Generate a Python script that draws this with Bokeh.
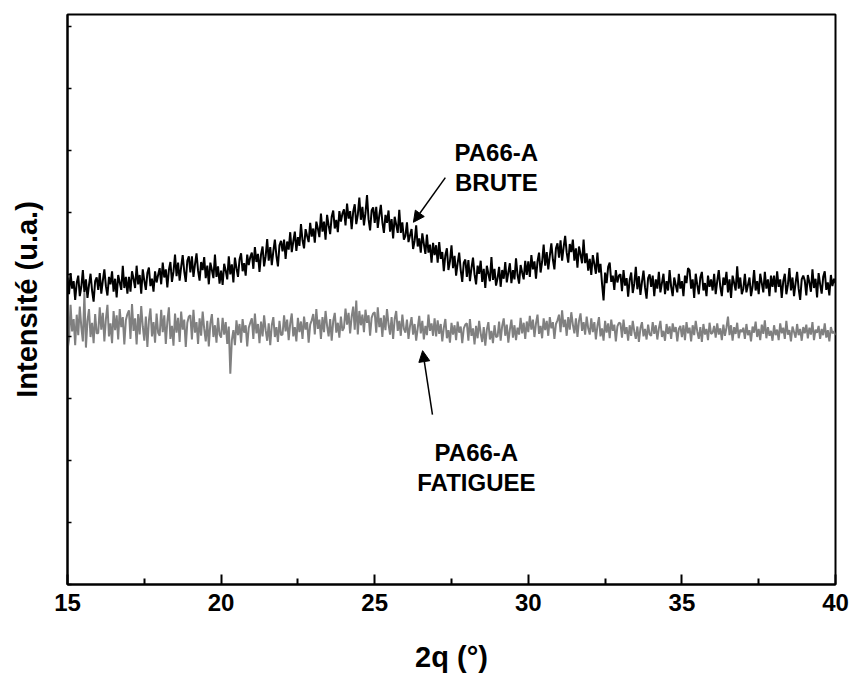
import numpy as np
from bokeh.plotting import figure
from bokeh.models import FixedTicker, Arrow, NormalHead
from bokeh.core.properties import value
from bokeh.embed import file_html
from bokeh.resources import INLINE

# 2-theta measurement grid (degrees), step 0.05
two_theta = np.round(15.0 + 0.05 * np.arange(501), 2)

# PA66-A BRUTE (black trace), arbitrary units
brute = [
    4.95, 4.68, 5.02, 4.77, 4.89, 4.59, 4.86, 4.98, 4.65, 4.80, 5.07, 4.71, 4.92, 4.62, 4.83, 5.01, 4.74, 4.56, 4.89, 4.95,  # 15
    4.75, 5.02, 4.69, 4.90, 5.08, 4.81, 4.66, 4.96, 4.84, 5.05, 4.72, 4.93, 4.63, 4.99, 4.87, 4.75, 5.14, 4.78, 4.96, 4.69,  # 16
    4.96, 4.72, 5.05, 4.93, 4.78, 5.14, 4.84, 4.99, 4.69, 5.08, 4.90, 4.75, 5.02, 5.11, 4.81, 4.93, 4.72, 5.05, 4.87, 4.99,  # 17
    5.10, 4.84, 5.19, 4.95, 5.08, 4.79, 5.07, 5.20, 4.88, 5.04, 5.32, 4.97, 5.19, 4.90, 5.12, 5.31, 5.05, 4.88, 5.22, 5.29,  # 18
    5.03, 5.29, 4.96, 5.16, 5.34, 5.06, 4.90, 5.20, 5.07, 5.28, 4.94, 5.14, 4.84, 5.19, 5.07, 4.94, 5.32, 4.96, 5.13, 4.85,  # 19
    5.06, 4.83, 5.17, 5.06, 4.92, 5.29, 5.00, 5.16, 4.87, 5.27, 5.10, 4.96, 5.24, 5.34, 5.05, 5.18, 4.98, 5.32, 5.15, 5.28,  # 20
    5.35, 5.09, 5.44, 5.20, 5.33, 5.04, 5.32, 5.45, 5.13, 5.29, 5.57, 5.22, 5.44, 5.15, 5.37, 5.56, 5.30, 5.13, 5.47, 5.54,  # 21
    5.37, 5.56, 5.25, 5.53, 5.40, 5.68, 5.36, 5.53, 5.69, 5.38, 5.60, 5.46, 5.81, 5.55, 5.42, 5.73, 5.62, 5.52, 5.83, 5.61,  # 22
    5.74, 5.51, 5.85, 5.74, 5.60, 5.98, 5.69, 5.85, 5.56, 5.96, 5.79, 5.65, 5.93, 6.03, 5.74, 5.88, 5.68, 6.02, 5.85, 5.98,  # 23
    6.05, 5.79, 6.14, 5.90, 6.02, 5.73, 6.01, 6.13, 5.81, 5.96, 6.24, 5.88, 6.09, 5.79, 5.99, 6.28, 5.89, 5.71, 6.03, 6.08,  # 24
    5.83, 6.09, 5.75, 5.95, 6.12, 5.84, 5.67, 5.96, 5.83, 6.03, 5.69, 5.89, 5.58, 5.93, 5.80, 5.67, 6.04, 5.67, 5.84, 5.56,  # 25
    5.62, 5.84, 5.52, 5.63, 5.73, 5.41, 5.54, 5.79, 5.45, 5.58, 5.35, 5.66, 5.49, 5.33, 5.64, 5.35, 5.48, 5.19, 5.51, 5.31,  # 26
    5.47, 5.19, 5.52, 5.25, 5.36, 5.05, 5.31, 5.42, 5.07, 5.21, 5.47, 5.10, 5.30, 4.98, 5.18, 5.35, 5.07, 4.88, 5.19, 5.24,  # 27
    4.96, 5.23, 4.89, 5.10, 5.27, 5.00, 4.84, 5.14, 5.01, 5.22, 4.88, 5.09, 4.78, 5.14, 5.01, 4.89, 5.28, 4.91, 5.09, 4.82,  # 28
    4.94, 5.12, 4.80, 5.07, 4.93, 5.20, 4.87, 5.03, 5.18, 4.86, 5.07, 4.92, 5.26, 4.99, 4.85, 5.15, 5.03, 4.92, 5.22, 4.99,  # 29
    5.21, 4.96, 5.31, 5.08, 5.21, 4.93, 5.21, 5.35, 5.03, 5.20, 5.48, 5.14, 5.36, 5.08, 5.30, 5.50, 5.24, 5.08, 5.42, 5.50,  # 30
    5.27, 5.55, 5.22, 5.44, 5.62, 5.35, 5.19, 5.49, 5.36, 5.56, 5.22, 5.42, 5.11, 5.45, 5.32, 5.18, 5.56, 5.18, 5.34, 5.06,  # 31
    5.25, 4.99, 5.31, 5.17, 5.01, 5.35, 5.03, 5.17, 4.85, 4.58, 5.03, 4.86, 5.12, 5.19, 4.88, 4.98, 4.75, 5.07, 4.87, 4.98,  # 32
    5.00, 4.73, 5.07, 4.82, 4.94, 4.64, 4.91, 5.03, 4.70, 4.85, 5.12, 4.76, 4.97, 4.67, 4.88, 5.06, 4.79, 4.61, 4.94, 5.00,  # 33
    4.80, 4.98, 4.65, 4.92, 4.77, 5.04, 4.71, 4.86, 5.01, 4.68, 4.89, 4.74, 5.07, 4.80, 4.65, 4.95, 4.83, 4.71, 5.01, 4.77,  # 34
    4.89, 4.65, 4.98, 4.86, 5.10, 5.07, 4.77, 4.92, 4.62, 5.01, 4.83, 4.68, 4.95, 5.04, 4.74, 4.86, 4.65, 4.98, 4.80, 4.92,  # 35
    4.74, 5.01, 4.68, 4.89, 5.07, 4.80, 4.65, 4.95, 4.83, 5.04, 4.71, 4.92, 4.62, 4.98, 4.86, 4.74, 5.13, 4.77, 4.95, 4.68,  # 36
    4.77, 5.01, 4.71, 4.83, 4.95, 4.65, 4.80, 5.07, 4.74, 4.89, 4.68, 5.01, 4.86, 4.71, 5.04, 4.77, 4.92, 4.65, 4.98, 4.80,  # 37
    4.98, 4.71, 5.05, 4.80, 4.92, 4.62, 4.89, 5.01, 4.68, 4.83, 5.10, 4.74, 4.95, 4.65, 4.86, 5.04, 4.77, 4.59, 4.92, 4.98,  # 38
    4.90, 4.66, 4.99, 4.87, 4.72, 5.08, 4.78, 4.93, 4.63, 5.02, 4.84, 4.69, 4.96, 5.05, 4.75, 4.87, 4.66, 4.99, 4.81, 4.93,  # 39
    4.86,                                                                                                                      # 40
]

# PA66-A FATIGUEE (grey trace)
fatiguee = [
    3.78, 3.95, 4.51, 4.08, 4.28, 3.86, 4.35, 4.02, 4.48, 4.15, 3.92, 4.70, 3.82, 4.25, 4.44, 3.99, 4.22, 3.89, 4.36, 4.05,  # 15
    4.05, 4.47, 4.11, 4.38, 3.92, 4.28, 4.51, 4.00, 4.21, 3.89, 4.41, 4.10, 4.34, 3.95, 4.44, 4.15, 4.31, 3.87, 4.26, 4.36,  # 16
    4.42, 3.96, 4.52, 4.09, 4.29, 3.87, 4.36, 4.03, 4.49, 4.16, 3.93, 4.32, 3.83, 4.26, 4.45, 4.00, 4.23, 3.90, 4.37, 4.06,  # 17
    4.01, 4.43, 4.07, 4.34, 3.88, 4.24, 4.47, 3.96, 4.17, 3.85, 4.37, 4.06, 4.30, 3.91, 4.40, 4.11, 4.27, 3.83, 4.22, 4.32,  # 18
    4.34, 3.95, 4.43, 4.06, 4.23, 3.88, 4.29, 4.01, 4.40, 4.12, 3.92, 4.25, 3.84, 4.21, 4.36, 3.99, 4.18, 3.90, 4.30, 4.03,  # 19
    3.98, 4.30, 4.03, 4.23, 3.88, 4.16, 3.40, 3.94, 4.10, 3.86, 4.26, 4.02, 4.20, 3.90, 4.28, 4.06, 4.18, 3.84, 4.14, 4.22,  # 20
    4.29, 3.96, 4.37, 4.05, 4.20, 3.89, 4.24, 4.00, 4.34, 4.10, 3.93, 4.21, 3.86, 4.18, 4.31, 3.99, 4.15, 3.91, 4.25, 4.02,  # 21
    4.03, 4.34, 4.08, 4.27, 3.94, 4.21, 4.37, 4.00, 4.15, 3.92, 4.30, 4.07, 4.24, 3.96, 4.32, 4.11, 4.23, 3.90, 4.19, 4.26,  # 22
    4.36, 4.03, 4.44, 4.12, 4.27, 3.96, 4.31, 4.07, 4.41, 4.17, 4.00, 4.28, 3.93, 4.25, 4.38, 4.06, 4.22, 3.98, 4.32, 4.09,  # 23
    4.14, 4.45, 4.19, 4.38, 4.05, 4.32, 4.48, 4.11, 4.58, 4.03, 4.41, 4.18, 4.35, 4.07, 4.43, 4.22, 4.34, 4.01, 4.30, 4.37,  # 24
    4.39, 4.06, 4.47, 4.15, 4.30, 3.99, 4.34, 4.10, 4.44, 4.20, 4.03, 4.31, 3.96, 4.28, 4.41, 4.09, 4.25, 4.01, 4.35, 4.12,  # 25
    4.06, 4.27, 3.96, 4.17, 4.31, 4.03, 4.20, 3.93, 4.13, 4.33, 4.05, 4.25, 3.95, 4.17, 4.02, 4.35, 4.09, 4.21, 4.01, 4.29,  # 26
    4.00, 4.26, 4.04, 4.20, 3.92, 4.14, 4.28, 3.97, 4.10, 3.90, 4.22, 4.03, 4.18, 3.94, 4.24, 4.06, 4.16, 3.89, 4.13, 4.19,  # 27
    4.21, 3.93, 4.28, 4.01, 4.13, 3.87, 4.17, 3.97, 4.25, 4.05, 3.91, 4.15, 3.85, 4.11, 4.23, 3.95, 4.09, 3.89, 4.18, 3.99,  # 28
    4.00, 4.24, 3.93, 4.17, 4.29, 4.01, 4.19, 3.90, 4.11, 4.27, 3.98, 4.18, 3.94, 4.14, 4.03, 4.30, 4.05, 4.22, 3.96, 4.24,  # 29
    4.07, 4.33, 4.11, 4.27, 3.99, 4.21, 4.35, 4.04, 4.17, 3.97, 4.29, 4.10, 4.25, 4.01, 4.31, 4.13, 4.23, 3.96, 4.20, 4.26,  # 30
    4.35, 4.07, 4.42, 4.15, 4.27, 4.01, 4.31, 4.11, 4.39, 4.19, 4.05, 4.29, 3.99, 4.25, 4.37, 4.09, 4.23, 4.03, 4.32, 4.13,  # 31
    4.03, 4.29, 4.07, 4.23, 3.95, 4.17, 4.31, 4.00, 4.13, 3.93, 4.25, 4.06, 4.21, 3.97, 4.27, 4.09, 4.19, 3.92, 4.16, 4.22,  # 32
    4.21, 3.98, 4.27, 4.04, 4.15, 3.93, 4.18, 4.01, 4.25, 4.08, 3.96, 4.16, 3.91, 4.13, 4.23, 4.00, 4.12, 3.95, 4.19, 4.03,  # 33
    4.01, 4.23, 4.04, 4.18, 3.95, 4.13, 4.25, 3.99, 4.09, 3.93, 4.20, 4.04, 4.16, 3.96, 4.21, 4.07, 4.15, 3.92, 4.12, 4.17,  # 34
    3.99, 4.18, 3.94, 4.23, 4.05, 4.14, 3.92, 4.18, 4.02, 4.25, 4.08, 3.96, 4.15, 3.91, 4.20, 4.03, 4.12, 3.94, 4.22, 4.04,  # 35
    4.06, 4.17, 3.98, 4.21, 4.03, 4.13, 3.94, 4.19, 4.01, 4.14, 4.32, 4.02, 4.18, 3.93, 4.15, 4.04, 4.22, 3.97, 4.11, 4.07,  # 36
    4.14, 3.96, 4.20, 4.02, 4.10, 3.92, 4.16, 4.06, 4.24, 3.99, 4.12, 3.94, 4.19, 4.04, 4.26, 3.97, 4.15, 4.01, 4.09, 3.93,  # 37
    4.18, 4.02, 4.11, 3.94, 4.21, 4.05, 4.14, 3.96, 4.25, 4.03, 4.10, 3.92, 4.16, 4.07, 3.98, 4.20, 4.02, 4.12, 3.93, 4.15,  # 38
    4.05, 4.19, 3.97, 4.14, 4.03, 4.23, 3.94, 4.11, 4.06, 4.17, 3.96, 4.12, 4.02, 4.21, 3.98, 4.10, 3.92, 4.15, 4.05, 4.08,  # 39
    4.02,                                                                                                                      # 40
]

x_major_ticks = [15, 20, 25, 30, 35, 40]
x_minor_ticks = [17.5, 22.5, 27.5, 32.5, 37.5]
y_ticks = [0, 1, 2, 3, 4, 5, 6, 7, 8, 9]

label_brute = ["PA66-A", "BRUTE"]
label_fatiguee = ["PA66-A", "FATIGUEE"]

FONT = "Liberation Sans"

p = figure(
    width=850, height=677,
    x_range=(15, 40), y_range=(0, 9.19),
    output_backend="svg", toolbar_location=None,
    min_border_left=67, min_border_right=15,
    min_border_top=14, min_border_bottom=93,
)
p.background_fill_color = "white"
p.border_fill_color = "white"
p.outline_line_color = "black"
p.outline_line_width = 2
p.xgrid.visible = False
p.ygrid.visible = False

p.line(two_theta, brute, line_color="black", line_width=2)
p.line(two_theta, fatiguee, line_color="#808080", line_width=2)

xa = p.xaxis[0]
xa.ticker = FixedTicker(ticks=x_major_ticks, minor_ticks=x_minor_ticks)
xa.axis_line_width = 2
xa.axis_line_color = "black"
xa.major_tick_in = 10
xa.major_tick_out = 0
xa.minor_tick_in = 6
xa.minor_tick_out = 0
xa.major_tick_line_width = 2
xa.minor_tick_line_width = 2
xa.major_label_text_font = FONT
xa.major_label_text_font_size = "24px"
xa.major_label_text_font_style = "bold"
xa.major_label_text_color = "black"
xa.major_label_standoff = 9
xa.axis_label = "2q (°)"
xa.axis_label_text_font = FONT
xa.axis_label_text_font_size = "29px"
xa.axis_label_text_font_style = "bold"
xa.axis_label_text_color = "black"
xa.axis_label_standoff = 27

ya = p.yaxis[0]
ya.ticker = FixedTicker(ticks=y_ticks, minor_ticks=[])
ya.axis_line_width = 2
ya.axis_line_color = "black"
ya.major_tick_in = 4
ya.major_tick_out = 0
ya.major_tick_line_width = 1.5
ya.major_label_overrides = {t: "" for t in y_ticks}
ya.major_label_standoff = 0
ya.axis_label = "Intensité (u.a.)"
ya.axis_label_text_font = FONT
ya.axis_label_text_font_size = "29px"
ya.axis_label_text_font_style = "bold"
ya.axis_label_text_color = "black"
ya.axis_label_standoff = 25

p.text(x=[28.96, 28.96], y=[6.97, 6.48], text=label_brute,
       text_align="center", text_baseline="alphabetic",
       text_font=value(FONT), text_font_size="24px", text_font_style="bold",
       text_color="black")
p.text(x=[28.31, 28.31], y=[2.13, 1.645], text=label_fatiguee,
       text_align="center", text_baseline="alphabetic",
       text_font=value(FONT), text_font_size="24px", text_font_style="bold",
       text_color="black")

p.add_layout(Arrow(end=NormalHead(size=11, fill_color="black", line_color="black", line_width=1),
                   x_start=27.30, y_start=6.56, x_end=26.26, y_end=5.84,
                   line_width=1.5, line_color="black"))
p.add_layout(Arrow(end=NormalHead(size=11, fill_color="black", line_color="black", line_width=1),
                   x_start=26.88, y_start=2.74, x_end=26.56, y_end=3.77,
                   line_width=1.5, line_color="black"))

open("out.html", "w").write(file_html(p, INLINE))
